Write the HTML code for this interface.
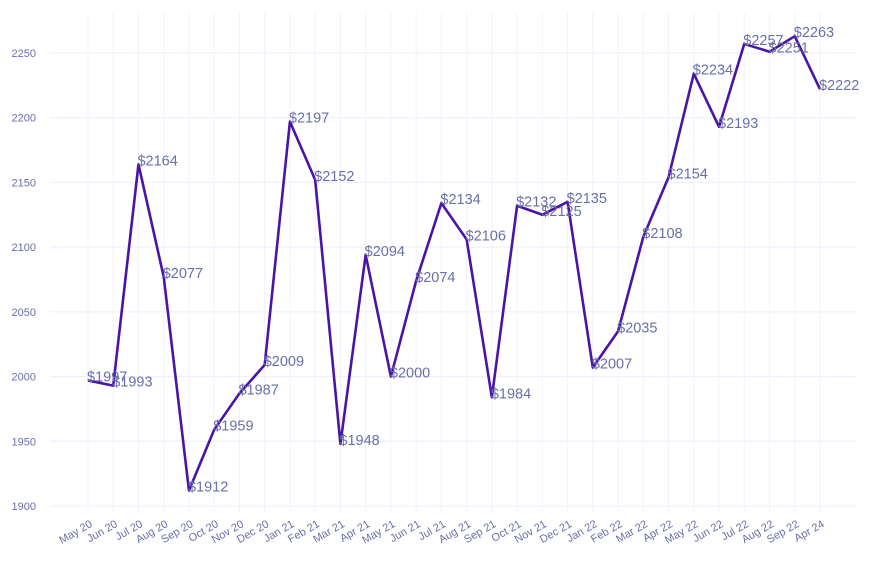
<!DOCTYPE html>
<html><head><meta charset="utf-8"><style>
body{margin:0;background:#fff;font-family:"Liberation Sans",Arial,sans-serif}
</style></head><body>
<svg id="chart" width="873" height="565">
<g id="grid"></g>
<g id="axes"></g>
<path id="line" fill="none" stroke="#4a14a6" stroke-width="2.6" stroke-linejoin="round"></path>
<g id="labels"></g>
</svg>
<script>
const categories=["May 20","Jun 20","Jul 20","Aug 20","Sep 20","Oct 20","Nov 20","Dec 20","Jan 21","Feb 21","Mar 21","Apr 21","May 21","Jun 21","Jul 21","Aug 21","Sep 21","Oct 21","Nov 21","Dec 21","Jan 22","Feb 22","Mar 22","Apr 22","May 22","Jun 22","Jul 22","Aug 22","Sep 22","Apr 24"];
const values=[1997,1993,2164,2077,1912,1959,1987,2009,2197,2152,1948,2094,2000,2074,2134,2106,1984,2132,2125,2135,2007,2035,2108,2154,2234,2193,2257,2251,2263,2222];
const yTicks=[1900,1950,2000,2050,2100,2150,2200,2250];
const NS="http://www.w3.org/2000/svg";
const x0=88,x1=820,gl=50,gr=856;
const xs=i=>x0+(x1-x0)*i/(categories.length-1);
const ys=v=>506+(v-1900)*(53-506)/350;
function mk(t,a,p){const e=document.createElementNS(NS,t);for(const k in a)e.setAttribute(k,a[k]);p.appendChild(e);return e;}
const grid=document.getElementById('grid'),axes=document.getElementById('axes'),labels=document.getElementById('labels');
yTicks.forEach(t=>{
 const l=mk('line',{x1:gl,x2:gr,y1:ys(t),y2:ys(t),stroke:'#eeeefb','stroke-width':1},grid);
 
 
 const tx=mk('text',{x:36,y:ys(t)+4,'text-anchor':'end','font-size':11,fill:'#6a6fa8'},axes);
 tx.textContent=t;
 
 
});
categories.forEach((c,i)=>{
 const x=xs(i);
 const l=mk('line',{x1:x,x2:x,y1:12,y2:512,stroke:'#f2f2fc','stroke-width':1},grid);
 
 
 const tx=mk('text',{x:x+5,y:526,'text-anchor':'end','font-size':11,fill:'#6a6fa8',transform:`rotate(-30 ${x+5} 526)`},axes);
 tx.textContent=c;
 
 
});
document.getElementById('line').setAttribute('d',values.map((v,i)=>(i?'L':'M')+xs(i)+','+ys(v)).join(''));
values.forEach((v,i)=>{
 const tx=mk('text',{x:xs(i)-1,y:ys(v)+1,'font-size':14.5,fill:'#6a6fa8'},labels);
 tx.textContent='$'+v;
 
 
});
</script>
</body></html>
